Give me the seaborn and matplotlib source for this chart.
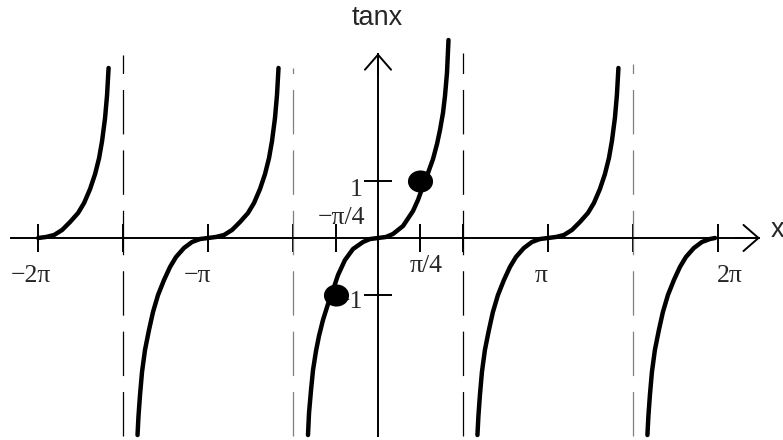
import numpy as np
import pandas as pd
import matplotlib
matplotlib.use("Agg")
import matplotlib.pyplot as plt
import seaborn as sns
from matplotlib.path import Path
from matplotlib.transforms import Affine2D

# curve branches (x in radians, y in units)
b1_x = [-6.283, -6.135, -5.987, -5.839, -5.692, -5.544, -5.433, -5.322,
        -5.229, -5.155, -5.100, -5.045, -5.008, -4.980]
b1_y = [0.0, 0.018, 0.053, 0.142, 0.283, 0.442, 0.619, 0.867,
        1.133, 1.416, 1.717, 2.124, 2.531, 3.009]

b2_x = [-4.445, -4.427, -4.399, -4.362, -4.307, -4.233, -4.159, -4.066, -3.955,
        -3.844, -3.733, -3.586, -3.438, -3.290, -3.142, -2.994, -2.846, -2.698,
        -2.551, -2.403, -2.292, -2.181, -2.088, -2.014, -1.959, -1.904, -1.867, -1.839]
b2_y = [-3.487, -3.150, -2.779, -2.372, -1.982, -1.628, -1.310, -1.009, -0.743,
        -0.513, -0.336, -0.177, -0.071, -0.018, 0.0, 0.018, 0.053, 0.142,
        0.283, 0.442, 0.619, 0.867, 1.133, 1.416, 1.717, 2.124, 2.531, 3.009]

b3_x = [-1.294, -1.275, -1.238, -1.201, -1.146, -1.091, -1.017, -0.924, -0.832,
        -0.739, -0.610, -0.462, -0.277, -0.148, 0.0, 0.148, 0.277, 0.462, 0.647,
        0.739, 0.832, 0.924, 1.017, 1.091, 1.146, 1.201, 1.238, 1.275, 1.303]
b3_y = [-3.487, -3.097, -2.690, -2.336, -2.000, -1.735, -1.451, -1.168, -0.920,
        -0.655, -0.389, -0.195, -0.071, -0.018, 0.0, 0.018, 0.071, 0.212, 0.478,
        0.673, 0.920, 1.150, 1.398, 1.664, 1.912, 2.212, 2.513, 2.920, 3.504]

b4_x = [1.838, 1.856, 1.884, 1.921, 1.976, 2.050, 2.124, 2.217, 2.328,
        2.439, 2.550, 2.697, 2.845, 2.993, 3.142, 3.290, 3.437, 3.585,
        3.732, 3.880, 3.991, 4.102, 4.195, 4.269, 4.324, 4.379, 4.416, 4.444]
b4_y = [-3.487, -3.150, -2.779, -2.372, -1.982, -1.628, -1.310, -1.009, -0.743,
        -0.513, -0.336, -0.177, -0.071, -0.018, 0.0, 0.018, 0.053, 0.142,
        0.283, 0.442, 0.619, 0.867, 1.133, 1.416, 1.717, 2.124, 2.531, 3.009]

b5_x = [4.980, 4.998, 5.026, 5.063, 5.118, 5.192, 5.266, 5.359, 5.470,
        5.581, 5.692, 5.839, 5.987, 6.135, 6.230]
b5_y = [-3.487, -3.150, -2.779, -2.372, -1.982, -1.628, -1.310, -1.009, -0.743,
        -0.513, -0.336, -0.177, -0.071, -0.018, 0.0]

asymptotes = [-1.5 * np.pi, -0.5 * np.pi, 0.5 * np.pi, 1.5 * np.pi]
dot_x = [-np.pi / 4, np.pi / 4]
dot_y = [-1, 1]

x_ticks = [-2 * np.pi, -1.5 * np.pi, -np.pi, -0.5 * np.pi, -np.pi / 4,
           np.pi / 4, 0.5 * np.pi, np.pi, 1.5 * np.pi, 2 * np.pi]
y_ticks = [-1, 1]

df = pd.concat([
    pd.DataFrame({"x": bx, "y": by, "branch": i})
    for i, (bx, by) in enumerate([(b1_x, b1_y), (b2_x, b2_y), (b3_x, b3_y),
                                  (b4_x, b4_y), (b5_x, b5_y)])
])

sns.set_theme(style="white")
plt.rcParams["font.family"] = ["Liberation Serif", "DejaVu Serif"]
plt.rcParams["lines.scale_dashes"] = False

fig = plt.figure(figsize=(7.83, 4.40), dpi=100)
ax = fig.add_axes([0, 0, 1, 1])
ax.set_xlim(-6.987, 7.486)
ax.set_ylim(-3.575, 4.212)

# dashed asymptotes
tops = [0.875, 0.845, 0.88, 0.855]
for i, a in enumerate(asymptotes):
    ax.axvline(a, ymin=0.01, ymax=tops[i],
               color="black" if i % 2 == 0 else "#808080",
               lw=0.9, ls=(0, (32, 11.5)), zorder=1)

sns.lineplot(data=df, x="x", y="y", units="branch", estimator=None, sort=False,
             color="black", lw=3.2, ax=ax, zorder=3,
             solid_joinstyle="round", solid_capstyle="round")

oval = Path.unit_circle().transformed(Affine2D().scale(1.15, 1.0))
sns.scatterplot(x=dot_x, y=dot_y, marker=oval, s=280, color="black",
                edgecolor="black", ax=ax, zorder=5)

# axes through the origin
for side in ["top", "right"]:
    ax.spines[side].set_visible(False)
ax.spines["bottom"].set_position(("data", 0))
ax.spines["left"].set_position(("data", 0))
ax.spines["bottom"].set_bounds(-6.78, 7.05)
ax.spines["left"].set_bounds(-3.51, 3.26)
for side in ["bottom", "left"]:
    ax.spines[side].set_color("black")
    ax.spines[side].set_linewidth(1.4)
    ax.spines[side].set_zorder(2)
ax.set_xticks(x_ticks)
ax.set_yticks(y_ticks)
ax.tick_params(axis="both", direction="inout", length=20, width=1.4,
               color="black", bottom=True, left=True,
               labelbottom=False, labelleft=False)
ax.set_xlabel("")
ax.set_ylabel("")

arrow = dict(arrowstyle="->,head_length=0.54,head_width=0.47", lw=1.4,
             color="black", mutation_scale=20, shrinkA=0, shrinkB=0)
ax.annotate("", xy=(7.06, 0), xytext=(6.6, 0), arrowprops=arrow)
ax.annotate("", xy=(0, 3.27), xytext=(0, 2.9), arrowprops=arrow)

# labels
fs = 18.5
ax.text(-6.78, -0.78, "\u22122\u03c0", fontsize=fs, ha="left", va="baseline")
ax.text(-3.09, -0.78, "\u2212\u03c0", fontsize=fs, ha="right", va="baseline")
ax.text(3.01, -0.78, "\u03c0", fontsize=fs, ha="center", va="baseline")
ax.text(6.27, -0.78, "2\u03c0", fontsize=fs, ha="left", va="baseline")
ax.text(0.59, -0.60, "\u03c0/4", fontsize=fs, ha="left", va="baseline")
ax.text(-1.11, 0.25, "\u2212\u03c0/4", fontsize=fs, ha="left", va="baseline")
ax.text(-0.28, 0.74, "1", fontsize=fs, ha="right", va="baseline")
ax.text(-0.28, -1.24, "\u22121", fontsize=fs, ha="right", va="baseline", zorder=2)
ax.text(-0.02, 3.77, "tanx", fontsize=19.5, ha="center", va="baseline",
        family=["Liberation Sans", "DejaVu Sans"])
ax.text(7.25, 0.02, "x", fontsize=19.5, ha="left", va="baseline",
        family=["Liberation Sans", "DejaVu Sans"])

ax.set_facecolor("white")
fig.savefig("out.png", dpi=100, facecolor="white")
